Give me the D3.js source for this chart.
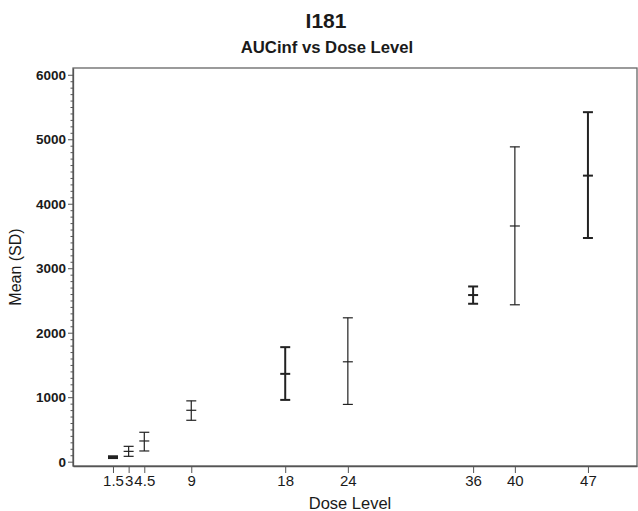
<!DOCTYPE html>
<html>
<head>
<meta charset="utf-8">
<script src="https://cdn.jsdelivr.net/npm/d3@7"></script>
<style>
    body { margin: 0; background: #fff; }
    svg { display: block; font-family: "Liberation Sans", Arial, sans-serif; }
</style>
</head>
<body>
<div id="chart"></div>
<script>
// Values
let doses = [1.5, 3, 4.5, 9, 18, 24, 36, 40, 47];
let means = [70, 160, 321, 797, 1362, 1549, 2584, 3655, 4436];
let lowers = [56, 83, 166, 642, 958, 888, 2449, 2433, 3469];
let uppers = [84, 238, 456, 943, 1776, 2231, 2717, 4882, 5420];
let yTickValues = [0, 1000, 2000, 3000, 4000, 5000, 6000];

let titleText = "I181";
let subtitleText = "AUCinf vs Dose Level";
let xLabel = "Dose Level";
let yLabel = "Mean (SD)";

let fontFamily = "'Liberation Sans', Arial, sans-serif";

function createDoseChart(container_width, container_height) {
    let chart = document.getElementById("chart");
    chart.innerHTML = '';

    let svg = d3.select(chart)
        .append("svg")
        .attr("width", container_width)
        .attr("height", container_height)
        .attr("viewBox", `0 0 ${container_width} ${container_height}`);

    let margin = { top: 68, left: 73, bottom: 45, right: 1 };
    let height = container_height - margin.top - margin.bottom;
    let width = container_width - margin.left - margin.right;

    let g = svg.append('g')
        .attr("transform", `translate(${margin.left}, ${margin.top})`);

    let data = doses.map((d, i) => ({ dose: d, mean: means[i], lo: lowers[i], hi: uppers[i] }));

    /* Scales */
    let xScale = d3.scaleLinear()
        .domain([-2.33, 51.7])
        .range([0, width]);

    let yScale = d3.scaleLinear()
        .domain([-67, 6105])
        .range([height, 0]);

    /* Titles */
    svg.append("text")
        .attr('x', 326)
        .attr('y', 28)
        .attr("text-anchor", "middle")
        .attr("font-family", fontFamily)
        .attr("font-weight", "bold")
        .attr("font-size", "21px")
        .attr("fill", "#1a1a1a")
        .text(titleText);

    svg.append("text")
        .attr('x', 327)
        .attr('y', 53)
        .attr("text-anchor", "middle")
        .attr("font-family", fontFamily)
        .attr("font-weight", "bold")
        .attr("font-size", "16.7px")
        .attr("fill", "#1a1a1a")
        .text(subtitleText);

    /* Frame */
    g.append("rect")
        .attr('x', 0)
        .attr('y', 0)
        .attr("width", width)
        .attr("height", height)
        .attr("fill", "none")
        .attr("stroke", "#666")
        .attr("stroke-width", 1.3);

    /* Y axis with minor ticks */
    let minorTicks = d3.range(0, 6001, 100).filter(v => v % 1000 !== 0);
    g.append('g')
        .attr("class", "axis--y-minor")
        .call(d3.axisLeft(yScale).tickValues(minorTicks).tickSize(2.5).tickFormat(''))
        .call(a => a.select(".domain").remove())
        .selectAll("line")
        .attr("stroke", "#555");

    let yAxis = g.append('g')
        .attr("class", "axis--y")
        .call(d3.axisLeft(yScale).tickValues(yTickValues).tickSize(5).tickPadding(2).tickSizeOuter(0).tickFormat(d3.format("d")));
    yAxis.select(".domain").attr("stroke", "#555").attr("stroke-width", 1.3);
    yAxis.selectAll("line").attr("stroke", "#555");
    yAxis.selectAll("text")
        .attr("font-size", "13.5px")
        .attr("font-weight", "bold")
        .attr("font-family", fontFamily)
        .attr("fill", "#1a1a1a");

    /* X axis */
    let xAxis = g.append('g')
        .attr("class", "axis--x")
        .attr("transform", `translate(0, ${height})`)
        .call(d3.axisBottom(xScale).tickValues(doses).tickSize(7).tickPadding(2).tickSizeOuter(0).tickFormat(d3.format("")));
    xAxis.select(".domain").attr("stroke", "#555").attr("stroke-width", 1.3);
    xAxis.selectAll("line").attr("stroke", "#555");
    xAxis.selectAll("text")
        .attr("font-size", "15px")
        .attr("font-family", fontFamily)
        .attr("fill", "#1a1a1a");

    /* Axis labels */
    svg.append("text")
        .attr('x', 350)
        .attr('y', 509)
        .attr("text-anchor", "middle")
        .attr("font-family", fontFamily)
        .attr("font-size", "16.5px")
        .attr("fill", "#1a1a1a")
        .text(xLabel);

    svg.append("text")
        .attr("transform", `translate(21, ${margin.top + height / 2}) rotate(-90)`)
        .attr("text-anchor", "middle")
        .attr("font-family", fontFamily)
        .attr("font-size", "16px")
        .attr("fill", "#1a1a1a")
        .text(yLabel);

    /* Error bars */
    let heavy = new Set([1.5, 18, 36, 47]);
    let capHalf = 5;
    let bars = g.selectAll(".errbar")
        .data(data)
        .enter()
        .append('g')
        .attr("class", "errbar")
        .attr("stroke", "#222")
        .attr("stroke-width", d => heavy.has(d.dose) ? 2 : 1.2);

    bars.append("line")
        .attr("x1", d => xScale(d.dose)).attr("x2", d => xScale(d.dose))
        .attr("y1", d => yScale(d.lo)).attr("y2", d => yScale(d.hi));

    ["lo", "mean", "hi"].forEach(key => {
        bars.append("line")
            .attr("x1", d => xScale(d.dose) - capHalf)
            .attr("x2", d => xScale(d.dose) + capHalf)
            .attr("y1", d => yScale(d[key]))
            .attr("y2", d => yScale(d[key]));
    });
}

createDoseChart(638, 511);
</script>
</body>
</html>
